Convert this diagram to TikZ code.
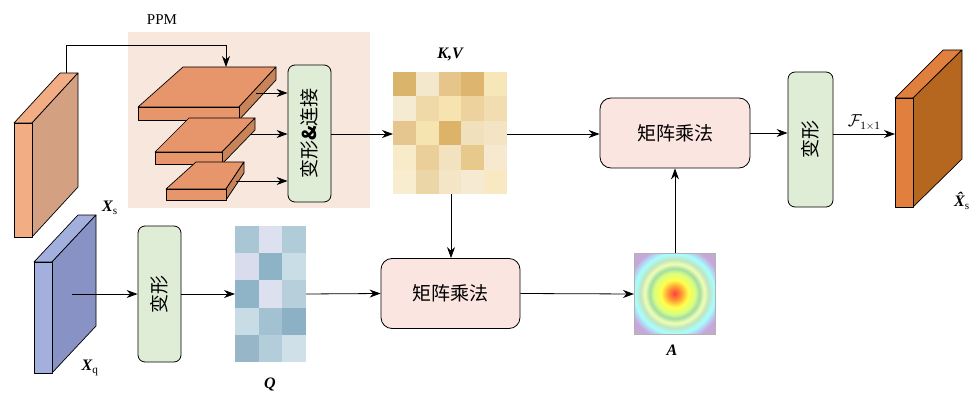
\documentclass[tikz,border=0pt]{standalone}
\usepackage{fontspec}
\setmainfont{Liberation Serif}
\newfontfamily\cjk{Noto Sans CJK SC}
\usetikzlibrary{arrows.meta}
\definecolor{ppmbg}{HTML}{F7E7DD}
\definecolor{gbox}{HTML}{DFEDD6}
\definecolor{pbox}{HTML}{FBE5E1}
\pgfdeclareradialshading{attn}{\pgfpoint{0bp}{0bp}}{color(0bp)=(red!75);color(3bp)=(orange!80);color(6bp)=(yellow!70);color(9bp)=(green!30!yellow!50);color(11bp)=(green!45!gray!50);color(13bp)=(green!20!yellow!30);color(15bp)=(green!40!gray!35);color(17.5bp)=(cyan!35);color(21bp)=(blue!25!violet!35);color(25bp)=(violet!45!gray!45)}
\tikzset{
 arr/.style={-{Stealth[length=11pt,width=8pt]},line width=0.8pt},
 gb/.style={draw,line width=0.8pt,rounded corners=7pt,fill=gbox},
 pb/.style={draw,line width=0.8pt,rounded corners=11pt,fill=pbox,font=\cjk\fontsize{19}{19}\selectfont},
 lab/.style={font=\fontsize{16}{16}\selectfont\bfseries\itshape},
 slab/.style={draw,line width=0.7pt,line join=round}
}
\begin{document}
\begin{tikzpicture}[x=1pt,y=-1pt]
\useasboundingbox (0,0) rectangle (980,401);
% PPM background
\fill[ppmbg] (128,32) rectangle (370,208);
\node (ppm) at (162,20) {\fontsize{15}{15}\selectfont PPM};
% Xs slab
\definecolor{sf}{HTML}{F2AD85}\definecolor{ss}{HTML}{D4A082}
\draw[slab,fill=sf] (14,123) -- (60,73) -- (78,73) -- (32,123) -- cycle;
\draw[slab,fill=ss] (32,123) -- (78,73) -- (78,187) -- (32,237) -- cycle;
\draw[slab,fill=sf] (14,123) rectangle (32,237);
\coordinate (xs) at (66,73);
\node[lab] (xsl) at (110,208) {X\textsubscript{\normalfont\upshape s}};
% PPM slabs
\definecolor{of}{HTML}{E7956A}\definecolor{os}{HTML}{C98358}
\foreach \fl/\fr/\ft/\fb/\bl/\br/\bt in {138/239/107/120/183/276/67, 155/222/152/164/189/255/118, 166/226/189/200/196/244/162}{
 \draw[slab,fill=of] (\fl,\ft) -- (\bl,\bt) -- (\br,\bt) -- (\fr,\ft) -- cycle;
 \draw[slab,fill=os] (\fr,\ft) -- (\br,\bt) -- (\br,\bt+\fb-\ft) -- (\fr,\fb) -- cycle;
 \draw[slab,fill=of] (\fl,\ft) rectangle (\fr,\fb);
}
\coordinate (s1) at (256,93); \coordinate (s2) at (250,134); \coordinate (s3) at (236,181);
\coordinate (s1top) at (226,67);
\node[gb,minimum width=43pt,minimum height=137pt] (cat) at (309.5,133.5) {};
\node[rotate=90,font=\cjk\fontsize{19}{19}\selectfont] (catt) at (cat) {变形\textbf{\&}连接};
\draw[arr] (xs) |- (66,45) -| (s1top);
\draw[arr] (s1) -- (s1 -| cat.west);
\draw[arr] (s2) -- (s2 -| cat.west);
\draw[arr] (s3) -- (s3 -| cat.west);
% KV grid
\node[lab] (kvl) at (450,55) {K,V};
\foreach \row [count=\r from 0] in {{D9B46A,F3E8CC,E5C58A,DDB56E,F7E6B8},{F5EAD2,EFD9A8,F6E3B0,EDD29E,F1DDB0},{E5C68E,F5E3B0,DDB36A,F1E0BC,F3E4C4},{F7EBCA,EBCF98,F3E2C0,E8C98C,F6E9CF},{F8EDCF,EBD6A8,F3E5C5,F6EBD2,F8E9C2}}{
 \foreach \c [count=\k from 0] in \row {
  \definecolor{tmp}{HTML}{\c}
  \fill[tmp] (393+\k*22.8,72+\r*24.4) rectangle (393+\k*22.8+22.9,72+\r*24.4+24.5);
 }}
\coordinate (kvw) at (393,134); \coordinate (kve) at (507,134); \coordinate (kvs) at (451,194);
\draw[arr] (cat.east |- kvw) -- (kvw);
% matmul boxes
\node[pb,minimum width=150pt,minimum height=70pt] (mm1) at (675,133) {矩阵乘法};
\node[pb,minimum width=139pt,minimum height=70pt] (mm2) at (450.5,293.5) {矩阵乘法};
\draw[arr] (kve) -- (kve -| mm1.west);
\draw[arr] (kvs) -- (kvs |- mm2.north);
% Xq slab
\definecolor{bf}{HTML}{A3B0DE}\definecolor{bs}{HTML}{8892C4}
\draw[slab,fill=bf] (34,262) -- (78,215) -- (96,215) -- (52,262) -- cycle;
\draw[slab,fill=bs] (52,262) -- (96,215) -- (96,326) -- (52,373) -- cycle;
\draw[slab,fill=bf] (34,262) rectangle (52,373);
\coordinate (xq) at (72,294);
\node[lab] (xql) at (90,368) {X\textsubscript{\normalfont\upshape q}};
\node[gb,minimum width=43pt,minimum height=136pt] (rs1) at (159.5,294) {};
\node[rotate=90,font=\cjk\fontsize{19}{19}\selectfont] (rs1t) at (rs1) {变形};
\draw[arr] (xq) -- (rs1.west);
% Q grid
\foreach \row [count=\r from 0] in {{A9C6D4,DDE0EE,B0CCD8},{D8DCEC,8DB3C6,C9DDE6},{90B4C7,DDE0EE,B7CFDB},{C8DCE6,A2C2D2,8DB1C4},{97B6C8,B3CEDA,CFE0E8}}{
 \foreach \c [count=\k from 0] in \row {
  \definecolor{tmp}{HTML}{\c}
  \fill[tmp] (235+\k*23.7,226+\r*27.2) rectangle (235+\k*23.7+23.8,226+\r*27.2+27.3);
 }}
\coordinate (qw) at (235,294); \coordinate (qe) at (306,294);
\node[lab] (ql) at (270,384) {Q};
\draw[arr] (rs1.east) -- (qw);
\draw[arr] (qe) -- (mm2.west);
% A
\begin{scope}
\clip (634,253) rectangle (715,334);
\shade[shading=attn] (674.5,293.5) circle (57);
\end{scope}
\draw[gray!60,line width=0.4pt] (634,253) rectangle (715,334);
\coordinate (aw) at (634,294); \coordinate (an) at (675,253);
\node[lab] (al) at (672,350) {A};
\draw[arr] (mm2.east) -- (aw);
\draw[arr] (an) -- (an |- mm1.south);
% reshape 2
\node[gb,minimum width=45pt,minimum height=135pt] (rs2) at (810.5,139.5) {};
\node[rotate=90,font=\cjk\fontsize{19}{19}\selectfont] (rs2t) at (rs2) {变形};
\draw[arr] (mm1.east) -- (mm1.east -| rs2.west);
% output slab
\definecolor{rf}{HTML}{E07F3E}\definecolor{rsd}{HTML}{B5661F}
\draw[slab,fill=rf] (895,98) -- (943,50) -- (962,50) -- (913,98) -- cycle;
\draw[slab,fill=rsd] (913,98) -- (962,50) -- (962,159) -- (913,207) -- cycle;
\draw[slab,fill=rf] (895,98) rectangle (913,207);
\coordinate (out) at (895,134);
\draw[arr] (rs2.east |- out) -- (out) node[pos=0.5,above=0pt,font=\fontsize{16}{16}\selectfont] (f11) {$\mathcal{F}_{\mathrm{1\times1}}$};
\node[lab] (xhl) at (962,201) {\^{X}\textsubscript{\normalfont\upshape s}};
\end{tikzpicture}
\end{document}
